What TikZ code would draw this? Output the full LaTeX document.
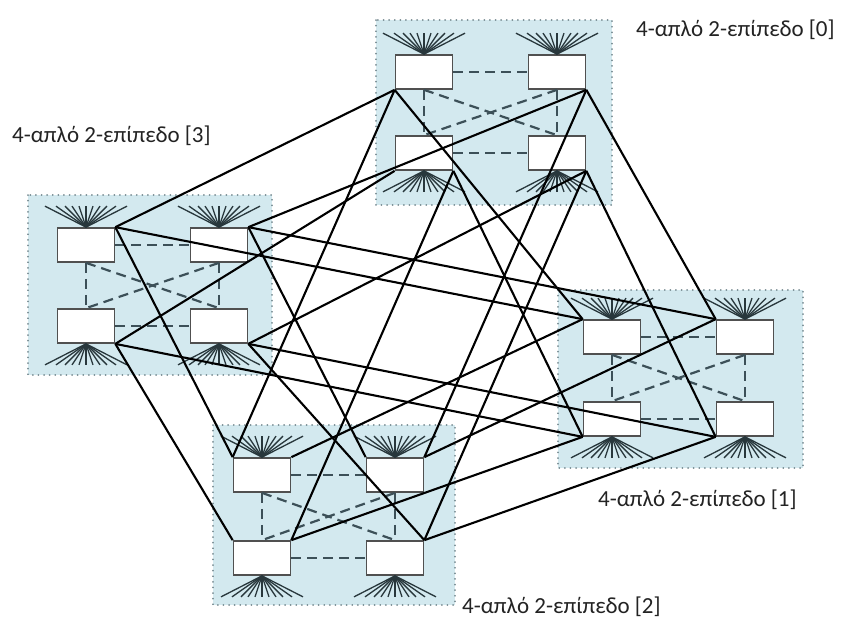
\documentclass[tikz,border=0pt]{standalone}
\usepackage{fontspec}
\setmainfont{Carlito}
\definecolor{grpfill}{RGB}{211,233,239}
\definecolor{grpdot}{RGB}{120,140,146}
\definecolor{boxline}{RGB}{80,80,80}
\definecolor{fancol}{RGB}{40,55,60}
\definecolor{dashcol}{RGB}{60,80,88}
\definecolor{labelcol}{RGB}{35,35,35}
\tikzset{
  grp/.style={fill=grpfill, draw=grpdot, line width=1.8pt, dash pattern=on 0.1pt off 5.5pt, line cap=round},
  sw/.style={draw=boxline, fill=white, line width=1.7pt, minimum width=57pt, minimum height=34pt, inner sep=0pt, rectangle},
  fanline/.style={draw=fancol, line width=1.3pt},
  intra/.style={draw=dashcol, line width=2.2pt, dash pattern=on 10pt off 6pt},
  inter/.style={draw=black, line width=2.1pt},
  lbl/.style={font=\fontsize{23}{26}\selectfont, text=labelcol, anchor=west, inner sep=0pt}
}
% fan of terminal links above / below a switch
\newcommand\fanup[1]{\foreach \dx in {-41,-30,-21,-14,-7,0,7,14,21,30,41} {\draw[fanline] (#1.north) -- ++(\dx,-21);}}
\newcommand\fandown[1]{\foreach \dx in {-41,-30,-21,-14,-7,0,7,14,21,30,41} {\draw[fanline] (#1.south) -- ++(\dx,21);}}
% one 4-ary 2-level group: four switches, prefix #1, top-left switch centre (#2,#3), row gap #4
\newcommand\group[4]{%
  \node[sw] (#1a) at (#2,#3) {};
  \node[sw] (#1b) at (#2+133,#3) {};
  \node[sw] (#1c) at (#2,#3+#4) {};
  \node[sw] (#1d) at (#2+133,#3+#4) {};
  \fanup{#1a}\fanup{#1b}\fandown{#1c}\fandown{#1d}
  \draw[intra] (#1a.east) -- (#1b.west);
  \draw[intra] (#1c.east) -- (#1d.west);
  \draw[intra] (#1a.south) -- (#1c.north);
  \draw[intra] (#1b.south) -- (#1d.north);
  \draw[intra] (#1a.south) -- (#1d.north);
  \draw[intra] (#1b.south) -- (#1c.north);
}
\begin{document}
\begin{tikzpicture}[x=1pt,y=-1pt]
\useasboundingbox[fill=white] (0,0) rectangle (851,625);

% group backgrounds
\filldraw[grp] (376,20) rectangle (612,205);
\filldraw[grp] (28,195) rectangle (272,375);
\filldraw[grp] (558,290) rectangle (803,468);
\filldraw[grp] (213,425) rectangle (455,605);

% groups
\group{g0}{424}{72}{81}
\group{g3}{86}{245}{81}
\group{g1}{612}{337}{82}
\group{g2}{262}{475}{83}

% links between groups
\draw[inter] (g0a.south west) -- (g1a.north west);
\draw[inter] (g0b.south east) -- (g1b.north west);
\draw[inter] (g0c.south east) -- (g1c.south west);
\draw[inter] (g0d.south east) -- (g1d.south west);

\draw[inter] (g0a.south west) -- (g2a.north west);
\draw[inter] (g0b.south east) -- (g2b.north east);
\draw[inter] (g0c.south east) -- (g2c.north east);
\draw[inter] (g0d.south east) -- (g2d.north east);

\draw[inter] (g3a.north east) -- (g0a.south west);
\draw[inter] (g3b.north east) -- (g0b.south east);
\draw[inter] (g3c.south east) -- (g0c.south west);
\draw[inter] (g3d.south east) -- (g0d.south east);

\draw[inter] (g2a.north east) -- (g1a.north west);
\draw[inter] (g2b.north east) -- (g1b.north west);
\draw[inter] (g2c.north east) -- (g1c.south west);
\draw[inter] (g2d.north east) -- (g1d.south west);

\draw[inter] (g3a.north east) -- (g1a.north west);
\draw[inter] (g3b.north east) -- (g1b.north west);
\draw[inter] (g3c.south east) -- (g1c.south west);
\draw[inter] (g3d.south east) -- (g1d.south west);

\draw[inter] (g3a.north east) -- (g2a.north west);
\draw[inter] (g3b.north east) -- (g2b.north west);
\draw[inter] (g3c.south east) -- (g2c.north west);
\draw[inter] (g3d.south east) -- (g2d.north east);

% group labels
\node[lbl] (l0) at (636,30) {4-απλό 2-επίπεδο [0]};
\node[lbl] (l3) at (12,136) {4-απλό 2-επίπεδο [3]};
\node[lbl] (l1) at (598,500) {4-απλό 2-επίπεδο [1]};
\node[lbl] (l2) at (462,607) {4-απλό 2-επίπεδο [2]};
\end{tikzpicture}
\end{document}
